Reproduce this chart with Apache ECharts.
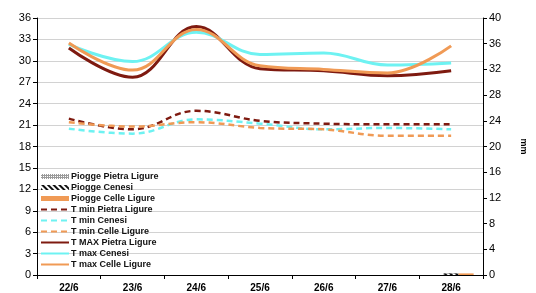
<!DOCTYPE html>
<html>
<head>
<meta charset="utf-8">
<script src="https://cdn.jsdelivr.net/npm/echarts@6/dist/echarts.min.js"></script>
<style>
  html, body { margin: 0; padding: 0; background: #fff; }
  #chart { width: 536px; height: 293px; }
</style>
</head>
<body>
<div id="chart"></div>
<script>
  const days = ['22/6', '23/6', '24/6', '25/6', '26/6', '27/6', '28/6']

  // piogge (mm, asse destro)
  const rainPietra = [0, 0, 0, 0, 0, 0, 0]
  const rainCenesi = [0, 0, 0, 0, 0, 0, 0.25]
  const rainCelle = [0, 0, 0, 0, 0, 0, 0.25]

  // temperature minime
  const tminPietra = [21.9, 20.4, 23.0, 21.6, 21.2, 21.1, 21.1]
  const tminCenesi = [20.5, 19.8, 21.8, 21.2, 20.4, 20.6, 20.4]
  const tminCelle = [21.4, 20.8, 21.4, 20.6, 20.4, 19.5, 19.5]

  // temperature massime
  const tmaxPietra = [31.8, 27.7, 34.8, 28.9, 28.6, 27.9, 28.6]
  const tmaxCenesi = [32.3, 29.9, 34.0, 30.9, 31.1, 29.4, 29.7]
  const tmaxCelle = [32.5, 28.7, 34.4, 29.3, 28.8, 28.3, 32.1]

  const DARK = '#7e1a10'
  const CYAN = '#6ef2f2'
  const ORANGE = '#f09a55'

  function lineSerie(name, data, color, dashed) {
    return {
      name: name,
      type: 'line',
      smooth: 0.4,
      symbol: 'none',
      yAxisIndex: 0,
      data: data,
      itemStyle: { color: color },
      lineStyle: dashed
        ? { color: color, width: 2.5, type: [6, 4] }
        : { color: color, width: 3 },
    }
  }

  function barSerie(name, data, itemStyle) {
    return {
      name: name,
      type: 'bar',
      yAxisIndex: 1,
      barWidth: 15,
      barGap: '0%',
      data: data,
      itemStyle: itemStyle,
    }
  }

  // voce di legenda per le linee: solo il tratto, niente simbolo
  const lineItem = (name) => ({ name: name, itemStyle: { opacity: 0 } })

  const chart = echarts.init(document.getElementById('chart'))
  chart.setOption({
    animation: false,
    textStyle: { fontFamily: 'Liberation Sans, Arial, sans-serif' },
    grid: { left: 37, right: 37, top: 18, bottom: 18 },
    legend: {
      orient: 'vertical',
      left: 35,
      top: 166,
      padding: 5,
      itemWidth: 28,
      itemHeight: 5,
      itemGap: 0,
      textStyle: { fontSize: 9, fontWeight: 'bold', color: '#111', lineHeight: 11, padding: [0, 0, 0, -3] },
      data: [
        { name: 'Piogge Pietra Ligure', icon: 'rect' },
        { name: 'Piogge Cenesi', icon: 'rect' },
        { name: 'Piogge Celle Ligure', icon: 'rect' },
        lineItem('T min Pietra Ligure'),
        lineItem('T min Cenesi'),
        lineItem('T min Celle Ligure'),
        lineItem('T MAX Pietra Ligure'),
        lineItem('T max Cenesi'),
        lineItem('T max Celle Ligure'),
      ],
    },
    xAxis: {
      type: 'category',
      data: days,
      boundaryGap: true,
      axisLine: { lineStyle: { color: '#000', width: 1 } },
      axisTick: { show: true, length: 4, lineStyle: { color: '#000' } },
      axisLabel: { fontSize: 10, fontWeight: 'bold', color: '#000', margin: 8 },
    },
    yAxis: [
      {
        type: 'value',
        min: 0,
        max: 36,
        interval: 3,
        axisLine: { show: true, lineStyle: { color: '#000' } },
        axisTick: { show: true, length: 4, lineStyle: { color: '#000' } },
        axisLabel: { fontSize: 11, color: '#000', margin: 6 },
        splitLine: { lineStyle: { color: '#d2d2d2', width: 1 } },
      },
      {
        type: 'value',
        min: 0,
        max: 40,
        interval: 4,
        name: 'mm',
        nameLocation: 'middle',
        nameGap: 36,
        nameRotate: -90,
        nameTextStyle: { fontSize: 9, fontWeight: 'bold', color: '#000' },
        axisLine: { show: true, lineStyle: { color: '#000' } },
        axisTick: { show: true, length: 4, lineStyle: { color: '#000' } },
        axisLabel: { fontSize: 11, color: '#000', margin: 6 },
        splitLine: { show: false },
      },
    ],
    series: [
      barSerie('Piogge Pietra Ligure', rainPietra, {
        color: '#9a9a9a',
        decal: { symbol: 'rect', symbolSize: 1, dashArrayX: [1, 1], dashArrayY: [1, 1], color: '#ffffff' },
      }),
      barSerie('Piogge Cenesi', rainCenesi, {
        color: '#111',
        decal: { symbol: 'rect', dashArrayX: [1, 0], dashArrayY: [2, 2], rotation: Math.PI / 4, color: '#ffffff' },
      }),
      barSerie('Piogge Celle Ligure', rainCelle, { color: ORANGE }),
      lineSerie('T min Pietra Ligure', tminPietra, DARK, true),
      lineSerie('T min Cenesi', tminCenesi, CYAN, true),
      lineSerie('T min Celle Ligure', tminCelle, ORANGE, true),
      lineSerie('T MAX Pietra Ligure', tmaxPietra, DARK, false),
      lineSerie('T max Cenesi', tmaxCenesi, CYAN, false),
      lineSerie('T max Celle Ligure', tmaxCelle, ORANGE, false),
    ],
  })
</script>
</body>
</html>
